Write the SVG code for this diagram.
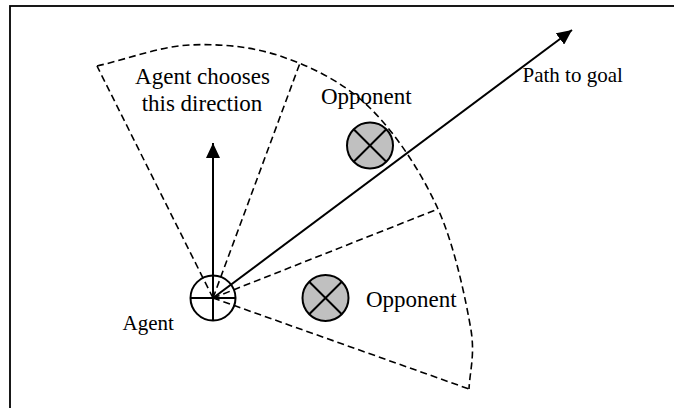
<svg xmlns="http://www.w3.org/2000/svg" width="674" height="408" viewBox="0 0 674 408">
<defs>
<marker id="ah" viewBox="0 0 15 14" refX="15" refY="7" markerWidth="15" markerHeight="14" markerUnits="userSpaceOnUse" orient="auto">
<path d="M0,0 L15,7 L0,14 z" fill="#000"/>
</marker>
<style>
.dash{fill:none;stroke:#000;stroke-width:1.6;stroke-dasharray:7,4}
.solid{fill:none;stroke:#000;stroke-width:2}
.t23{font-family:"Liberation Serif","Times New Roman",serif;font-size:23px;fill:#000}
.t21{font-family:"Liberation Serif","Times New Roman",serif;font-size:21px;fill:#000}
.opp{fill:#c0c0c0;stroke:#000;stroke-width:2}
</style>
</defs>
<rect x="10" y="6" width="720" height="440" fill="#fff" stroke="#000" stroke-width="1.8"/>
<g id="sectors">
<path class="dash" d="M97,66 C128,59 159,46.5 190,45 C221,43.5 253,46.5 283,57 C313,67.5 344.2,82.7 370,108 C395.8,133.3 421.2,172 438,209 C454.8,246 465.8,300 471,330 C475,355 470,370 469,389"/>
<path class="dash" d="M213,298 L97,66"/>
<path class="dash" d="M213,298 L300,63"/>
<path class="dash" d="M213,298 L438,209"/>
<path class="dash" d="M213,298 L469,389"/>
</g>
<g id="connectors">
<line class="solid" x1="213" y1="298" x2="572" y2="30" marker-end="url(#ah)"/>
<line class="solid" x1="213" y1="321" x2="213" y2="143" marker-end="url(#ah)"/>
</g>
<g id="agent">
<circle class="solid" cx="213" cy="298" r="22.5"/>
<line class="solid" x1="190.5" y1="298" x2="235.5" y2="298"/>
<text class="t21" x="122.5" y="330">Agent</text>
</g>
<g id="opponent1">
<circle class="opp" cx="370" cy="145.5" r="23"/>
<path class="solid" d="M353.7,129.2 L386.3,161.8 M386.3,129.2 L353.7,161.8"/>
<text class="t23" x="321" y="104">Opponent</text>
</g>
<g id="opponent2">
<circle class="opp" cx="325.5" cy="298" r="23"/>
<path class="solid" d="M309.2,281.7 L341.8,314.3 M341.8,281.7 L309.2,314.3"/>
<text class="t23" x="366" y="306.5">Opponent</text>
</g>
<g id="labels">
<text class="t23" x="202.5" y="84" text-anchor="middle">Agent chooses</text>
<text class="t23" x="202" y="111" text-anchor="middle">this direction</text>
<text class="t21" x="522.5" y="81.5">Path to goal</text>
</g>
</svg>
